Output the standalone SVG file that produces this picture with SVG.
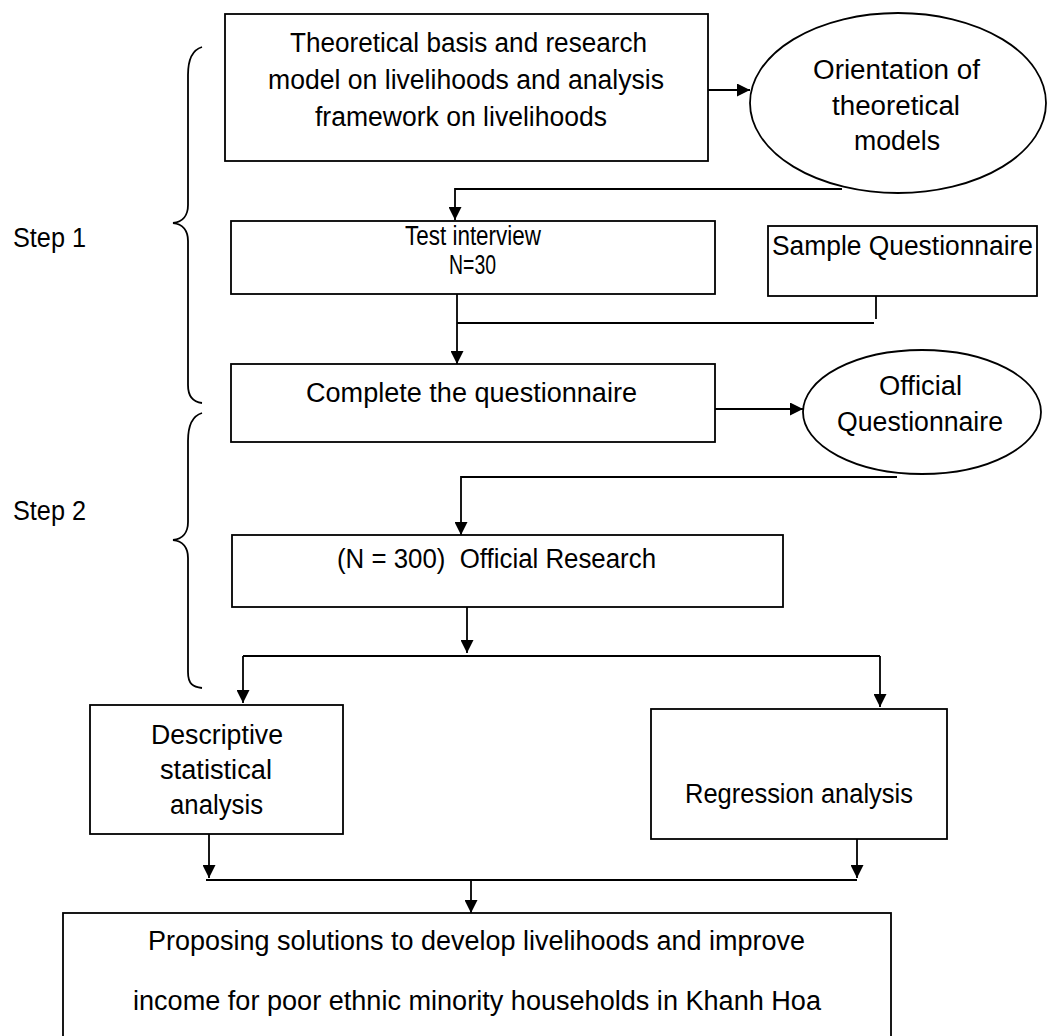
<svg xmlns="http://www.w3.org/2000/svg" width="1048" height="1036" viewBox="0 0 1048 1036">
<style>
.n{fill:#fff;stroke:#000;stroke-width:1.8}
.t{font-family:"Liberation Sans",Arial,sans-serif;font-size:27px;fill:#000}
.c{fill:none;stroke:#000;stroke-width:1.8}
.a{marker-end:url(#ah)}
</style>
<defs>
<marker id="ah" markerUnits="userSpaceOnUse" markerWidth="13" markerHeight="13" refX="13" refY="6.5" orient="auto">
<path d="M0,0 L13,6.5 L0,13 z" fill="#000"/>
</marker>
</defs>
<rect width="1048" height="1036" fill="#fff"/>

<g id="braces">
<path class="c" d="M202,47 C192,50 188,60 188,75 L188,205 C188,215 183,222 173,223 C183,224 188,231 188,241 L188,385 C188,397 193,402 202,403"/>
<path class="c" d="M202,413 C192,416 188,426 188,441 L188,522 C188,532 183,539 173,540 C183,541 188,548 188,558 L188,672 C188,684 193,687 202,688"/>
<text class="t" x="13" y="247" font-size="24" textLength="73" lengthAdjust="spacingAndGlyphs">Step 1</text>
<text class="t" x="13" y="520" font-size="24" textLength="73" lengthAdjust="spacingAndGlyphs">Step 2</text>
</g>

<g id="connectors">
<line class="c a" x1="708" y1="90" x2="750" y2="90"/>
<polyline class="c a" points="842,189 455,189 455,220"/>
<line class="c a" x1="457" y1="294" x2="457" y2="364"/>
<line class="c" x1="876" y1="296" x2="876" y2="319"/>
<line class="c" x1="457" y1="323" x2="874" y2="323"/>
<line class="c a" x1="715" y1="409" x2="803" y2="409"/>
<polyline class="c a" points="897,477 461,477 461,535"/>
<line class="c a" x1="467" y1="607" x2="467" y2="653"/>
<line class="c" x1="243" y1="656" x2="880" y2="656"/>
<line class="c a" x1="243" y1="656" x2="243" y2="703"/>
<line class="c a" x1="880" y1="656" x2="880" y2="707"/>
<line class="c a" x1="209" y1="834" x2="209" y2="878"/>
<line class="c a" x1="857" y1="839" x2="857" y2="878"/>
<line class="c" x1="206" y1="880" x2="857" y2="880"/>
<line class="c a" x1="471" y1="880" x2="471" y2="913"/>
</g>

<g id="theoretical-basis">
<rect class="n" x="225" y="14" width="483" height="147"/>
<text class="t" x="290" y="52" textLength="357" lengthAdjust="spacingAndGlyphs">Theoretical basis and research</text>
<text class="t" x="268" y="89" textLength="396" lengthAdjust="spacingAndGlyphs">model on livelihoods and analysis</text>
<text class="t" x="315" y="126" textLength="292" lengthAdjust="spacingAndGlyphs">framework on livelihoods</text>
</g>

<g id="orientation">
<ellipse class="n" cx="898" cy="103" rx="148" ry="90"/>
<text class="t" x="813" y="79" textLength="167" lengthAdjust="spacingAndGlyphs">Orientation of</text>
<text class="t" x="832" y="115" textLength="128" lengthAdjust="spacingAndGlyphs">theoretical</text>
<text class="t" x="854" y="150" textLength="86" lengthAdjust="spacingAndGlyphs">models</text>
</g>

<g id="test-interview">
<rect class="n" x="231" y="221" width="484" height="73"/>
<text class="t" x="405" y="245" font-size="19" textLength="136" lengthAdjust="spacingAndGlyphs">Test interview</text>
<text class="t" x="449" y="274" font-size="19" textLength="47" lengthAdjust="spacingAndGlyphs">N=30</text>
</g>

<g id="sample-questionnaire">
<rect class="n" x="768" y="226" width="269" height="70"/>
<text class="t" x="772" y="255" textLength="261" lengthAdjust="spacingAndGlyphs">Sample Questionnaire</text>
</g>

<g id="complete-questionnaire">
<rect class="n" x="231" y="364" width="484" height="78"/>
<text class="t" x="306" y="402" textLength="331" lengthAdjust="spacingAndGlyphs">Complete the questionnaire</text>
</g>

<g id="official-questionnaire">
<ellipse class="n" cx="922" cy="412" rx="119" ry="62"/>
<text class="t" x="879" y="395" textLength="83" lengthAdjust="spacingAndGlyphs">Official</text>
<text class="t" x="837" y="431" textLength="166" lengthAdjust="spacingAndGlyphs">Questionnaire</text>
</g>

<g id="official-research">
<rect class="n" x="232" y="535" width="551" height="72"/>
<text class="t" x="337" y="568" xml:space="preserve" textLength="319" lengthAdjust="spacingAndGlyphs">(N = 300)  Official Research</text>
</g>

<g id="descriptive">
<rect class="n" x="90" y="705" width="253" height="129"/>
<text class="t" x="151" y="744" textLength="132" lengthAdjust="spacingAndGlyphs">Descriptive</text>
<text class="t" x="160" y="779" textLength="112" lengthAdjust="spacingAndGlyphs">statistical</text>
<text class="t" x="170" y="814" textLength="93" lengthAdjust="spacingAndGlyphs">analysis</text>
</g>

<g id="regression">
<rect class="n" x="651" y="709" width="296" height="130"/>
<text class="t" x="685" y="803" textLength="228" lengthAdjust="spacingAndGlyphs">Regression analysis</text>
</g>

<g id="proposing">
<rect class="n" x="63" y="913" width="828" height="130"/>
<text class="t" x="148" y="950" textLength="657" lengthAdjust="spacingAndGlyphs">Proposing solutions to develop livelihoods and improve</text>
<text class="t" x="133" y="1010" textLength="688" lengthAdjust="spacingAndGlyphs">income for poor ethnic minority households in Khanh Hoa</text>
</g>
</svg>
